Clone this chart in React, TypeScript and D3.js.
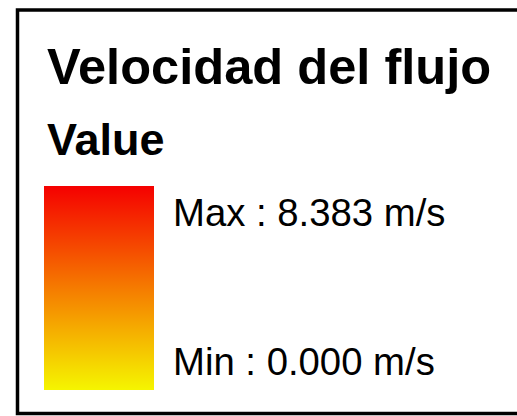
import React, { useEffect, useRef } from "react";
import * as d3 from "d3";

const title = "Velocidad del flujo";
const subtitle = "Value";
const unit = "m/s";
const valueRange = [0, 8.383];
const rampColors = ["#f5f500", "#f50000"];

const W = 517;
const H = 416;
const FONT = "'Liberation Sans', Arial, sans-serif";

const App: React.FC = () => {
	const svgRef = useRef<SVGSVGElement | null>(null);

	useEffect(() => {
		const svg = d3.select(svgRef.current);
		svg.selectAll("*").remove();

		// frame (right side runs off the picture)
		svg.append("rect")
			.attr("x", 17.5)
			.attr("y", 10)
			.attr("width", 540)
			.attr("height", 403.5)
			.attr("fill", "white")
			.attr("stroke", "black")
			.attr("stroke-width", 3.5);

		svg.append("text")
			.attr("x", 47)
			.attr("y", 84)
			.style("font-family", FONT)
			.style("font-weight", "700")
			.style("font-size", "50.6px")
			.text(title);

		svg.append("text")
			.attr("x", 47)
			.attr("y", 155)
			.style("font-family", FONT)
			.style("font-weight", "700")
			.style("font-size", "45px")
			.text(subtitle);

		// colour ramp
		const y = d3.scaleLinear().domain(valueRange).range([390, 186]);
		const color = d3
			.scaleLinear<string>()
			.domain(valueRange)
			.range(rampColors)
			.interpolate(d3.interpolateRgb);

		const grad = svg
			.append("defs")
			.append("linearGradient")
			.attr("id", "ramp")
			.attr("x1", 0)
			.attr("y1", 1)
			.attr("x2", 0)
			.attr("y2", 0);
		d3.range(0, 1.0001, 0.1).forEach((t) => {
			const v = valueRange[0] + t * (valueRange[1] - valueRange[0]);
			grad.append("stop")
				.attr("offset", `${t * 100}%`)
				.attr("stop-color", color(v));
		});

		svg.append("rect")
			.attr("x", 44)
			.attr("y", y(valueRange[1]))
			.attr("width", 110)
			.attr("height", y(valueRange[0]) - y(valueRange[1]))
			.attr("fill", "url(#ramp)");

		svg.append("text")
			.attr("x", 173)
			.attr("y", 226)
			.style("font-family", FONT)
			.style("font-size", "38.3px")
			.text(`Max : ${valueRange[1].toFixed(3)} ${unit}`);

		svg.append("text")
			.attr("x", 173)
			.attr("y", 375)
			.style("font-family", FONT)
			.style("font-size", "38.3px")
			.text(`Min : ${valueRange[0].toFixed(3)} ${unit}`);
	}, []);

	return (
		<svg
			ref={svgRef}
			width={W}
			height={H}
			style={{ position: "absolute", left: 0, top: 0, background: "white" }}
		></svg>
	);
};

export default App;
